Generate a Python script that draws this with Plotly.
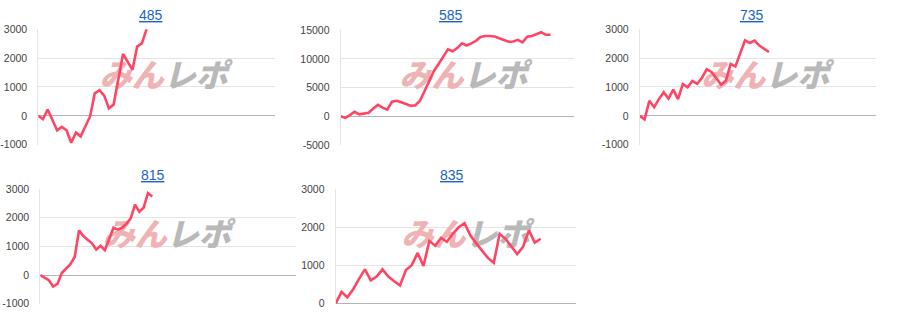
import plotly.graph_objects as go

# ---------------- data ----------------
titles = ["485", "585", "735", "815", "835"]

vals_485 = [0, -110, 220, -140, -500, -380, -500, -930, -580, -710, -360, -20,
            780, 890, 700, 260, 390, 1260, 2140, 1870, 1590, 2400, 2510, 3000]

vals_585 = [0, -280, 200, 790, 340, 450, 620, 1350, 2000, 1500, 1150, 2550,
            2700, 2450, 2150, 1850, 1900, 2700, 4400, 6300, 7900, 9100, 10300,
            11650, 11320, 11870, 12690, 12310, 12690, 13130, 13790, 13960, 13960,
            13900, 13570, 13240, 12970, 13020, 13300, 12860, 13850, 13960, 14230,
            14620, 14180, 14180]

vals_735 = [0, -120, 520, 300, 580, 820, 600, 910, 580, 1100, 990, 1210, 1110,
            1320, 1610, 1520, 1300, 1080, 1210, 1800, 1710, 2190, 2610, 2520,
            2600, 2430, 2320, 2210]

vals_815 = [0, -90, -180, -400, -310, 70, 210, 380, 630, 1560, 1360, 1220, 1110,
            890, 1020, 870, 1280, 1650, 1590, 1650, 1790, 1980, 2460, 2210, 2350,
            2860, 2740]

vals_835 = [0, 310, 170, 380, 650, 900, 610, 710, 900, 710, 590, 480, 880, 1010,
            1330, 990, 1640, 1520, 1720, 1620, 1830, 2000, 2110, 1790, 1580, 1380,
            1200, 1070, 1830, 1700, 1490, 1300, 1490, 1920, 1600, 1700]

ticks_a = [-1000, 0, 1000, 2000, 3000]
ticklabels_a = ["-1000", "0", "1000", "2000", "3000"]
ticks_b = [-5000, 0, 5000, 10000, 15000]
ticklabels_b = ["-5000", "0", "5000", "10000", "15000"]
ticks_c = [0, 1000, 2000, 3000]
ticklabels_c = ["0", "1000", "2000", "3000"]

watermark_a = "みん"
watermark_b = "レポ"

# ---------------- layout (pixels) ----------------
W, H = 900, 330
LINE = "#ff4564"

panels = [
    dict(vals=vals_485, ticks=ticks_a, labels=ticklabels_a, x0=37.3, x1=274, yt=24, yb=144,
         xmax=50.2, title=(150, 9.5), logo=(163, 75.5)),
    dict(vals=vals_585, ticks=ticks_b, labels=ticklabels_b, x0=340, x1=574, yt=25, yb=144.3,
         xmax=50.1, title=(450, 9.5), logo=(463, 75.5)),
    dict(vals=vals_735, ticks=ticks_a, labels=ticklabels_a, x0=639.5, x1=876, yt=24, yb=144,
         xmax=49.4, title=(752, 9.5), logo=(765, 75.5)),
    dict(vals=vals_815, ticks=ticks_a, labels=ticklabels_a, x0=39.3, x1=295, yt=190, yb=309,
         xmax=59.3, title=(152, 175), logo=(166, 240.5)),
    dict(vals=vals_835, ticks=ticks_c, labels=ticklabels_c, x0=335, x1=576, yt=190, yb=309,
         xmax=41.1, title=(452, 175), logo=(465, 240.5)),
]

fig = go.Figure()
layout = dict(width=W, height=H, margin=dict(l=0, r=0, t=0, b=0),
              paper_bgcolor="white", plot_bgcolor="white", showlegend=False,
              font=dict(family="Liberation Sans, Arial, sans-serif"),
              annotations=[])

for i, p in enumerate(panels):
    k = "" if i == 0 else str(i + 1)
    ymin, ymax = p["ticks"][0], p["ticks"][-1]
    xs = list(range(len(p["vals"])))

    # watermark (drawn first, so it sits under the line)
    lx = (p["logo"][0] - p["x0"]) / (p["x1"] - p["x0"]) * p["xmax"]
    ly = ymax - (p["logo"][1] - p["yt"]) / (p["yb"] - p["yt"]) * (ymax - ymin)
    fig.add_trace(go.Scatter(
        x=[lx], y=[ly], mode="text",
        text=[f"<b><i><span style='color:#efb3b4;font-weight:900'>{watermark_a}</span>"
              f"<span style='color:#b9b9b9;font-weight:900'>{watermark_b}</span></i></b>"],
        textposition="middle center",
        textfont=dict(family="Noto Sans CJK JP Black, Noto Sans CJK JP", size=32,
                      weight=900, style="italic"),
        hoverinfo="skip", cliponaxis=False,
        xaxis="x" + k, yaxis="y" + k))

    fig.add_trace(go.Scatter(
        x=xs, y=p["vals"], mode="lines",
        line=dict(color=LINE, width=2.6),
        xaxis="x" + k, yaxis="y" + k))

    layout["xaxis" + k] = dict(
        domain=[p["x0"] / W, p["x1"] / W], range=[0, p["xmax"]],
        showgrid=False, zeroline=False, showticklabels=False, showline=False,
        anchor="y" + k, fixedrange=True)
    layout["yaxis" + k] = dict(
        domain=[1 - p["yb"] / H, 1 - p["yt"] / H], range=[ymin, ymax],
        tickvals=p["ticks"], ticktext=p["labels"],
        showgrid=True, gridcolor="#e3e3e3", gridwidth=1,
        zeroline=True, zerolinecolor="#b4b4b4", zerolinewidth=1.3,
        showline=True, linecolor="#e3e3e3", linewidth=1,
        ticks="", ticklabelstandoff=8,
        tickfont=dict(family="Liberation Sans, Arial, sans-serif", size=10.5, color="#444444"),
        anchor="x" + k, fixedrange=True)

    layout["annotations"].append(dict(
        x=p["title"][0] / W, y=1 - p["title"][1] / H, xref="paper", yref="paper",
        text=f"<u>{titles[i]}</u>", showarrow=False,
        xanchor="center", yanchor="middle",
        font=dict(family="Liberation Sans, Arial, sans-serif", size=14, color="#1a62c8")))

fig.update_layout(**layout)
fig.write_html("out.html")
